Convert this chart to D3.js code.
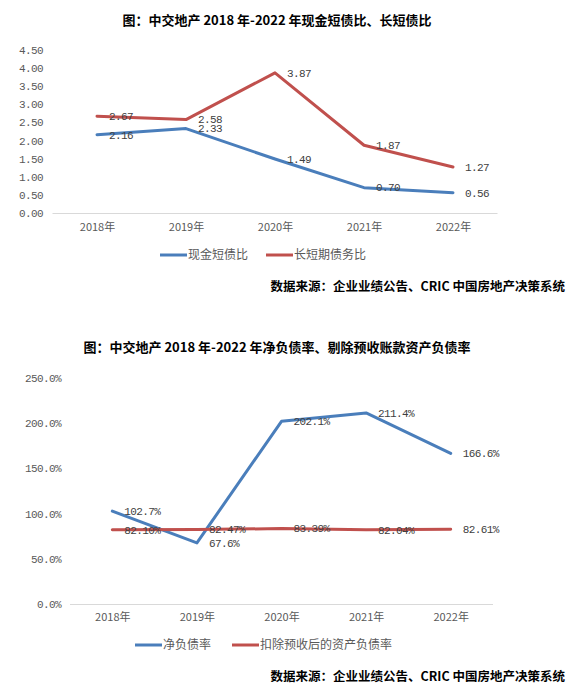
<!DOCTYPE html>
<html>
<head>
<meta charset="utf-8">
<script src="https://cdn.jsdelivr.net/npm/d3@7"></script>
<style>
 body {margin:0; background:#fff;}
 svg {display:block;}
 .tick text {font-family:"Liberation Mono", monospace; font-size:11px; letter-spacing:-0.6px; fill:#595959;}
 .xax .tick text {font-family:"Noto Sans CJK SC", sans-serif; font-size:11px; letter-spacing:0; fill:#595959;}
 .lbl {font-family:"Liberation Mono", monospace; font-size:11px; letter-spacing:-0.6px; fill:#404040;}
 .ttl, .src {font-family:"Noto Sans CJK SC", sans-serif; font-weight:bold; fill:#000;}
 .leg {font-family:"Noto Sans CJK SC", sans-serif; font-size:12px; fill:#595959;}
</style>
</head>
<body>
<div id="chart"></div>
<script>
// data
var years = ["2018年", "2019年", "2020年", "2021年", "2022年"];
var cashRatio = [2.16, 2.33, 1.49, 0.70, 0.56];
var longShortRatio = [2.67, 2.58, 3.87, 1.87, 1.27];
var netDebtRatio = [102.7, 67.6, 202.1, 211.4, 166.6];
var adjDebtRatio = [82.10, 82.47, 83.39, 82.04, 82.61];
var ticks1 = [0, 0.5, 1, 1.5, 2, 2.5, 3, 3.5, 4, 4.5];
var ticks2 = [0, 50, 100, 150, 200, 250];

var blue = "#4a7ebb", red = "#c0504d";

var svg = d3.select("#chart").append("svg").attr("width", 569).attr("height", 693);
svg.append("rect").attr("width", 569).attr("height", 693).attr("fill", "#fff");

function drawChart(cfg) {
  var x = d3.scalePoint().domain(years).range(cfg.xr).padding(0.5);
  var y = d3.scaleLinear().domain(cfg.yd).range(cfg.yr);

  svg.append("text").attr("class", "ttl").attr("x", 277).attr("y", cfg.titleY)
     .attr("text-anchor", "middle").attr("font-size", 13).text(cfg.title);

  var ya = svg.append("g").attr("transform", "translate(" + cfg.yx + ",0)")
     .call(d3.axisLeft(y).tickValues(cfg.ticks).tickSize(0).tickPadding(0).tickFormat(cfg.fmt));
  ya.select(".domain").remove();

  var xa = svg.append("g").attr("class", "xax").attr("transform", "translate(0," + cfg.yr[0] + ")")
     .call(d3.axisBottom(x).tickSize(0).tickSizeOuter(0).tickPadding(cfg.xpad));
  xa.select(".domain").attr("d", "M" + cfg.xr[0] + ",0.5H" + cfg.xr[1]).attr("stroke", "#d9d9d9");

  var line = d3.line().x(function(d, i) { return x(years[i]); }).y(function(d) { return y(d); });

  cfg.series.forEach(function(s) {
    svg.append("path").datum(s.values).attr("d", line).attr("fill", "none")
       .attr("stroke", s.color).attr("stroke-width", 3).attr("stroke-linejoin", "round").attr("stroke-linecap", "round");
  });
  cfg.series.forEach(function(s) {
    svg.selectAll(null).data(s.values).enter().append("text").attr("class", "lbl")
       .attr("x", function(d, i) { return x(years[i]) + 12; })
       .attr("y", function(d) { return y(d); })
       .attr("dy", "0.35em")
       .text(s.lfmt);
  });

  cfg.series.forEach(function(s, i) {
    var lx = cfg.legX[i];
    svg.append("line").attr("x1", lx).attr("x2", lx + 27).attr("y1", cfg.legY).attr("y2", cfg.legY)
       .attr("stroke", s.color).attr("stroke-width", 3);
    svg.append("text").attr("class", "leg").attr("x", lx + 28).attr("y", cfg.legY).attr("dy", "0.35em").text(s.name);
  });

  svg.append("text").attr("class", "src").attr("x", 565).attr("y", cfg.srcY).attr("dy", "0.35em")
     .attr("text-anchor", "end").attr("font-size", 12.5).text("数据来源：企业业绩公告、CRIC 中国房地产决策系统");
}

drawChart({
  title: "图：中交地产 2018 年-2022 年现金短债比、长短债比",
  titleY: 25,
  xr: [52.5, 497.5], yd: [0, 4.5], yr: [213, 50], yx: 43, xpad: 10,
  ticks: ticks1, fmt: d3.format(".2f"),
  series: [
    {name: "现金短债比", values: cashRatio, color: blue, lfmt: d3.format(".2f")},
    {name: "长短期债务比", values: longShortRatio, color: red, lfmt: d3.format(".2f")}
  ],
  legX: [160, 266], legY: 255, srcY: 287
});

drawChart({
  title: "图：中交地产 2018 年-2022 年净负债率、剔除预收账款资产负债率",
  titleY: 352,
  xr: [70, 493], yd: [0, 250], yr: [604, 378], yx: 61, xpad: 9,
  ticks: ticks2, fmt: function(d) { return d.toFixed(1) + "%"; },
  series: [
    {name: "净负债率", values: netDebtRatio, color: blue, lfmt: function(d) { return d.toFixed(1) + "%"; }},
    {name: "扣除预收后的资产负债率", values: adjDebtRatio, color: red, lfmt: function(d) { return d.toFixed(2) + "%"; }}
  ],
  legX: [135, 232], legY: 645, srcY: 677
});
</script>
</body>
</html>
